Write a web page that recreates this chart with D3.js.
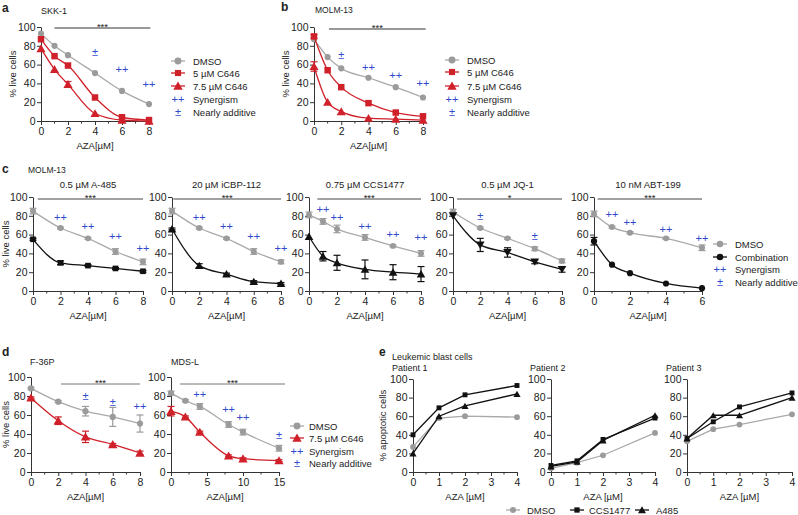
<!DOCTYPE html>
<html><head><meta charset="utf-8">
<script src="https://cdn.jsdelivr.net/npm/d3@7"></script>
<style>
body{margin:0;background:#fff;}
svg{font-family:"Liberation Sans",Arial,Helvetica,sans-serif;}
</style></head><body>
<svg id="fig" width="798" height="515"></svg>
<script>
// ================= DATA =================
const yTickVals = [0,20,40,60,80,100];
// --- a: SKK-1 ---
const aDose = [0,1,2,4,6,8];
const aDMSO = [93,80,70,51,32,18];
const a5C646 = [87,69,59,25,4,1];
const a75C646 = [77,55,39,8,1,0];
const a75C646Err = [0,0,3,0,0,0];
const aMarkDose = [4,6,8];
const aMarkVal = [73,55,39];
const aMarkText = ["±","++","++"];
// --- b: MOLM-13 ---
const bDose = [0,1,2,4,6,8];
const bDMSO = [87,68,56,46,36,25];
const b5C646 = [90,54,36,19,9,5];
const b5C646Err = [2,0,0,0,0,0];
const b75C646 = [58,20,10,3,2,1];
const b75C646Err = [5,0,0,0,0,0];
const bMarkDose = [2,4,6,8];
const bMarkVal = [70,57,49,40];
const bMarkText = ["±","++","++","++"];
// --- c: MOLM-13 combinations ---
const cTitles = ["0.5 µM A-485","20 µM iCBP-112","0.75 µM CCS1477","0.5 µM JQ-1","10 nM ABT-199"];
const cSigLabels = ["***","***","***","*","***"];
const cSigStart = [0.35,0.1,0.6,0.3,0.2];
const cXMax = [8,8,8,8,6];
const cXTicks = [[0,2,4,6,8],[0,2,4,6,8],[0,2,4,6,8],[0,2,4,6,8],[0,2,4,6]];
const c1Dose = [0,2,4,6,8];
const c1DMSO = [85,67,56,42,31];
const c1DMSOErr = [3,1,1,3,3];
const c1Comb = [55,30,27,24,21];
const c1CombErr = [1,2,1,1,1];
const c1MarkDose = [2,4,6,8];
const c1MarkVal = [79,69,58,46];
const c1MarkText = ["++","++","++","++"];
const c2Dose = [0,2,4,6,8];
const c2DMSO = [85,67,56,42,31];
const c2DMSOErr = [3,1,1,3,2];
const c2Comb = [66,27,18,10,8];
const c2CombErr = [1,2,1,1,1];
const c2MarkDose = [2,4,6,8];
const c2MarkVal = [79,69,58,46];
const c2MarkText = ["++","++","++","++"];
const c3Dose = [0,1,2,4,6,8];
const c3DMSO = [81,74,66,57,48,40];
const c3DMSOErr = [3,3,4,3,1,3];
const c3Comb = [58,37,30,23,20,18];
const c3CombErr = [0,5,8,10,8,8];
const c3MarkDose = [1,2,4,6,8];
const c3MarkVal = [87,79,69,61,57];
const c3MarkText = ["++","++","++","++","++"];
const c4Dose = [0,2,4,6,8];
const c4DMSO = [84,67,56,45,32];
const c4DMSOErr = [3,1,1,2,2];
const c4Comb = [80,49,41,31,23];
const c4CombErr = [0,7,5,2,3];
const c4MarkDose = [2,6];
const c4MarkVal = [80,59];
const c4MarkText = ["±","±"];
const c5Dose = [0,1,2,4,6];
const c5DMSO = [82,68,62,56,46];
const c5DMSOErr = [3,1,1,1,3];
const c5Comb = [53,28,19,8,3];
const c5CombErr = [4,0,0,0,0];
const c5MarkDose = [1,2,4,6];
const c5MarkVal = [82,73,66,56];
const c5MarkText = ["++","++","++","++"];
// --- d: F-36P and MDS-L ---
const dFDose = [0,2,4,6,8];
const dFDMSO = [88,74,64,58,51];
const dFDMSOErr = [1,1,5,10,9];
const dFC646 = [78,54,37,29,20];
const dFC646Err = [1,4,6,1,2];
const dFMarkDose = [4,6,8];
const dFMarkVal = [80,74,69];
const dFMarkText = ["±","±","++"];
const dMDose = [0,2,4,8,10,15];
const dMDMSO = [83,75,69,50,42,25];
const dMDMSOErr = [2,1,3,3,3,3];
const dMC646 = [64,58,42,17,14,12];
const dMC646Err = [5,1,1,1,1,1];
const dMMarkDose = [4,8,10,15];
const dMMarkVal = [82,66,58,39];
const dMMarkText = ["++","++","++","±"];
// --- e: leukemic blast cells ---
const eDose = [0,1,2,4];
const eTitles = ["Patient 1","Patient 2","Patient 3"];
const p1DMSO = [27,58,60,59];
const p1CCS1477 = [40,69,83,93];
const p1A485 = [20,60,71,84];
const p2DMSO = [4,10,18,42];
const p2CCS1477 = [7,12,35,58];
const p2A485 = [6,11,34,61];
const p3DMSO = [33,46,51,62];
const p3CCS1477 = [36,54,70,85];
const p3A485 = [36,61,61,80];

// ================= STYLE =================
const GRAY = "#9b9b9b", GRAYLINE = "#a9a9a9", RED = "#d0212a", BLUE = "#2f48cc", BLACK = "#111", AX = "#333", TXT = "#222";
const svg = d3.select("#fig");
const fmt = d3.format("~g");

function symPath(shape, size){
  const t = {circle:d3.symbolCircle, square:d3.symbolSquare, triangle:d3.symbolTriangle, tridown:d3.symbolTriangle}[shape];
  return d3.symbol().type(t).size(size)();
}
function drawMarker(g, shape, size, cx, cy, color){
  const rot = shape === "tridown" ? " rotate(180)" : "";
  const dy = shape === "triangle" ? 1 : (shape === "tridown" ? -1 : 0);
  g.append("path").attr("d", symPath(shape, size))
    .attr("transform", `translate(${cx},${cy+dy})${rot}`).attr("fill", color);
}

function drawPanel(o){
  const g = svg.append("g");
  const x = d3.scaleLinear().domain([0, o.xMax]).range([o.x0, o.x1]);
  const y = d3.scaleLinear().domain([0, 100]).range([o.y0, o.y100]);
  const ya = g.append("g").attr("transform", `translate(${o.x0},0)`)
    .call(d3.axisLeft(y).tickValues(yTickVals).tickFormat(fmt).tickSize(4).tickSizeOuter(0).tickPadding(1.5));
  const xa = g.append("g").attr("transform", `translate(0,${o.y0})`)
    .call(d3.axisBottom(x).tickValues(o.xTicks).tickFormat(fmt).tickSize(4).tickSizeOuter(0).tickPadding(3));
  xa.selectAll(".minor").data(o.xMinor).join("line").attr("class","minor")
    .attr("x1", d => x(d)).attr("x2", d => x(d)).attr("y1", 0).attr("y2", 2.5).attr("stroke", AX);
  [ya, xa].forEach(a => {
    a.attr("font-family", null).attr("font-size", null);
    a.selectAll("path,line").attr("stroke", AX).attr("stroke-width", 1);
    a.selectAll("text").attr("fill", TXT).style("font-size", "10.5px");
  });
  if (o.ylabel) {
    g.append("text").attr("transform", `translate(${o.x0 - o.ylabelOff},${(o.y0 + o.y100) / 2}) rotate(-90)`)
      .attr("text-anchor", "middle").attr("dy", "0.35em").attr("fill", TXT).style("font-size", "9.5px").text(o.ylabel);
  }
  g.append("text").attr("x", (o.x0 + o.x1) / 2).attr("y", o.y0 + 25).attr("dy", "0.35em")
    .attr("text-anchor", "middle").attr("fill", TXT).style("font-size", "9.5px").text(o.xlabel);
  if (o.sig) {
    const xs = x(o.sig.from), xe = o.sig.toPx !== undefined ? o.sig.toPx : x(o.sig.to);
    g.append("line").attr("x1", xs).attr("x2", xe)
      .attr("y1", o.sig.y).attr("y2", o.sig.y).attr("stroke", o.sig.color || AX).attr("stroke-width", 1);
    g.append("text").attr("x", (xs + xe) / 2).attr("y", o.sig.y + 1.5).attr("text-anchor", "middle")
      .attr("fill", TXT).style("font-size", "9.5px").text(o.sig.label);
  }
  o.series.forEach(s => {
    const pts = s.dose.map((d, i) => ({x: d, y: s.vals[i], e: s.err ? s.err[i] : 0}));
    const line = d3.line().x(d => x(d.x)).y(d => y(d.y)).curve(s.straight ? d3.curveLinear : d3.curveMonotoneX);
    g.append("path").datum(pts).attr("d", line).attr("fill", "none")
      .attr("stroke", s.lineColor || s.color).attr("stroke-width", s.lw || 1.3);
    pts.filter(p => p.e > 0).forEach(p => {
      const cx = x(p.x), ylo = y(Math.max(0, p.y - p.e)), yhi = y(p.y + p.e);
      g.append("line").attr("x1", cx).attr("x2", cx).attr("y1", ylo).attr("y2", yhi).attr("stroke", s.color).attr("stroke-width", 1.2);
      [ylo, yhi].forEach(yy => g.append("line").attr("x1", cx - 3.5).attr("x2", cx + 3.5).attr("y1", yy).attr("y2", yy)
        .attr("stroke", s.color).attr("stroke-width", 1.2));
    });
    pts.forEach(p => drawMarker(g, s.shape, s.size, x(p.x), y(p.y), s.color));
  });
  if (o.marks) {
    o.marks.dose.forEach((d, i) => {
      g.append("text").attr("x", x(d)).attr("y", y(o.marks.vals[i])).attr("dominant-baseline", "central")
        .attr("text-anchor", "middle").attr("fill", BLUE).style("font-size", "11px").text(o.marks.text[i]);
    });
  }
  return {x, y};
}

function text(x, y, s, size, opts = {}) {
  const t = svg.append("text").attr("x", x).attr("y", y).attr("dominant-baseline", "central")
    .attr("fill", opts.color || TXT).style("font-size", size + "px").text(s);
  if (opts.bold) t.attr("font-weight", "bold");
  if (opts.anchor) t.attr("text-anchor", opts.anchor);
  return t;
}

function legend(mx, tx, rows, rowsY, msize) {
  rows.forEach((r, i) => {
    const yy = rowsY[i];
    if (r.shape) {
      svg.append("line").attr("x1", mx - 7).attr("x2", mx + 7).attr("y1", yy).attr("y2", yy)
        .attr("stroke", r.lineColor || r.color).attr("stroke-width", 1.3);
      drawMarker(svg, r.shape, msize, mx, yy, r.color);
    } else {
      svg.append("text").attr("x", mx).attr("y", yy).attr("text-anchor", "middle").attr("dominant-baseline", "central")
        .attr("fill", BLUE).style("font-size", "11px").text(r.sym);
    }
    text(tx, yy, r.label, 9.5);
  });
}

// ================= PANEL a =================
text(2, 8, "a", 12, {bold: true});
text(41, 11, "SKK-1", 9);
drawPanel({x0: 41, x1: 149, y0: 121, y100: 27, xMax: 8, xTicks: [0,2,4,6,8], xMinor: [1,3,5,7],
  ylabel: "% live cells", ylabelOff: 28, xlabel: "AZA[µM]",
  sig: {from: 1.0, to: 8.1, y: 28, label: "***"},
  series: [
    {dose: aDose, vals: aDMSO, color: GRAY, lineColor: GRAYLINE, shape: "circle", size: 30},
    {dose: aDose, vals: a5C646, color: RED, shape: "square", size: 42},
    {dose: aDose, vals: a75C646, err: a75C646Err, color: RED, shape: "triangle", size: 36}
  ],
  marks: {dose: aMarkDose, vals: aMarkVal, text: aMarkText}
});
const legA = [
  {shape: "circle", color: GRAY, lineColor: GRAYLINE, label: "DMSO"},
  {shape: "square", color: RED, label: "5 µM C646"},
  {shape: "triangle", color: RED, label: "7.5 µM C646"},
  {sym: "++", label: "Synergism"},
  {sym: "±", label: "Nearly additive"}
];
legend(178, 193, legA, [61, 73, 86, 99, 112], 38);

// ================= PANEL b =================
text(281, 7, "b", 12, {bold: true});
text(315, 10, "MOLM-13", 8.5);
drawPanel({x0: 314, x1: 423, y0: 121, y100: 27, xMax: 8, xTicks: [0,2,4,6,8], xMinor: [1,3,5,7],
  ylabel: "% live cells", ylabelOff: 28, xlabel: "AZA[µM]",
  sig: {from: 1.1, to: 8.2, y: 29, label: "***"},
  series: [
    {dose: bDose, vals: bDMSO, color: GRAY, lineColor: GRAYLINE, shape: "circle", size: 30},
    {dose: bDose, vals: b5C646, err: b5C646Err, color: RED, shape: "square", size: 42},
    {dose: bDose, vals: b75C646, err: b75C646Err, color: RED, shape: "triangle", size: 36}
  ],
  marks: {dose: bMarkDose, vals: bMarkVal, text: bMarkText}
});
legend(452, 467, legA, [60, 72, 86, 99, 112], 38);

// ================= PANEL c =================
text(2, 169, "c", 12, {bold: true});
text(28, 170, "MOLM-13", 8.5);
const cX0 = [33,172,309,453,594];
const cX1 = [143,281,421,562,702];
const cSets = [
  {dose: c1Dose, dmso: c1DMSO, dErr: c1DMSOErr, comb: c1Comb, cErr: c1CombErr, shape: "square", md: c1MarkDose, mv: c1MarkVal, mt: c1MarkText},
  {dose: c2Dose, dmso: c2DMSO, dErr: c2DMSOErr, comb: c2Comb, cErr: c2CombErr, shape: "triangle", md: c2MarkDose, mv: c2MarkVal, mt: c2MarkText},
  {dose: c3Dose, dmso: c3DMSO, dErr: c3DMSOErr, comb: c3Comb, cErr: c3CombErr, shape: "triangle", md: c3MarkDose, mv: c3MarkVal, mt: c3MarkText},
  {dose: c4Dose, dmso: c4DMSO, dErr: c4DMSOErr, comb: c4Comb, cErr: c4CombErr, shape: "tridown", md: c4MarkDose, mv: c4MarkVal, mt: c4MarkText},
  {dose: c5Dose, dmso: c5DMSO, dErr: c5DMSOErr, comb: c5Comb, cErr: c5CombErr, shape: "circle", md: c5MarkDose, mv: c5MarkVal, mt: c5MarkText}
];
cSets.forEach((s, i) => {
  const xm = cXMax[i];
  const minor = d3.range(1, xm, 2);
  text((cX0[i] + cX1[i]) / 2, 184, cTitles[i], 9.5, {anchor: "middle"});
  drawPanel({x0: cX0[i], x1: cX1[i], y0: 291, y100: 197, xMax: xm, xTicks: cXTicks[i], xMinor: minor,
    ylabel: i === 0 ? "% live cells" : null, ylabelOff: 27, xlabel: "AZA[µM]",
    sig: {from: cSigStart[i], to: xm, y: 199, label: cSigLabels[i], color: "#444"},
    series: [
      {dose: s.dose, vals: s.dmso, err: s.dErr, color: GRAY, lineColor: GRAYLINE, shape: "circle", size: 28},
      {dose: s.dose, vals: s.comb, err: s.cErr, color: BLACK, shape: s.shape, size: s.shape === "circle" ? 30 : 32}
    ],
    marks: {dose: s.md, vals: s.mv, text: s.mt}
  });
});
legend(720, 735, [
  {shape: "circle", color: GRAY, lineColor: GRAYLINE, label: "DMSO"},
  {shape: "circle", color: BLACK, label: "Combination"},
  {sym: "++", label: "Synergism"},
  {sym: "±", label: "Nearly additive"}
], [244, 257, 269, 282], 34);

// ================= PANEL d =================
text(2, 352, "d", 12, {bold: true});
text(30, 362, "F-36P", 9);
drawPanel({x0: 31, x1: 140, y0: 472, y100: 377, xMax: 8, xTicks: [0,2,4,6,8], xMinor: [1,3,5,7],
  ylabel: "% live cells", ylabelOff: 25, xlabel: "AZA[µM]",
  sig: {from: 2.2, to: 8, y: 384, label: "***", color: "#777"},
  series: [
    {dose: dFDose, vals: dFDMSO, err: dFDMSOErr, color: GRAY, lineColor: GRAYLINE, shape: "circle", size: 30},
    {dose: dFDose, vals: dFC646, err: dFC646Err, color: RED, shape: "triangle", size: 38}
  ],
  marks: {dose: dFMarkDose, vals: dFMarkVal, text: dFMarkText}
});
text(171, 362, "MDS-L", 9);
drawPanel({x0: 171, x1: 279, y0: 472, y100: 377, xMax: 15, xTicks: [0,5,10,15], xMinor: [2.5,7.5,12.5],
  ylabel: null, xlabel: "AZA[µM]",
  sig: {from: 1.25, to: 15, toPx: 285, y: 384, label: "***", color: "#777"},
  series: [
    {dose: dMDose, vals: dMDMSO, err: dMDMSOErr, color: GRAY, lineColor: GRAYLINE, shape: "circle", size: 30},
    {dose: dMDose, vals: dMC646, err: dMC646Err, color: RED, shape: "triangle", size: 38}
  ],
  marks: {dose: dMMarkDose, vals: dMMarkVal, text: dMMarkText}
});
legend(297, 309, [
  {shape: "circle", color: GRAY, lineColor: GRAYLINE, label: "DMSO"},
  {shape: "triangle", color: RED, label: "7.5 µM C646"},
  {sym: "++", label: "Synergism"},
  {sym: "±", label: "Nearly additive"}
], [426, 438, 451, 463], 38);

// ================= PANEL e =================
text(379, 352, "e", 12, {bold: true});
text(392, 357, "Leukemic blast cells", 9);
const eX0 = [413, 551, 687];
const eX1 = [517, 655, 792];
const eSets = [[p1DMSO, p1CCS1477, p1A485], [p2DMSO, p2CCS1477, p2A485], [p3DMSO, p3CCS1477, p3A485]];
eSets.forEach((s, i) => {
  text(eX0[i] - 21, 368, eTitles[i], 9);
  drawPanel({x0: eX0[i], x1: eX1[i], y0: 472, y100: 379, xMax: 4, xTicks: [0,1,2,3,4], xMinor: [0.5,1.5,2.5,3.5],
    ylabel: i === 0 ? "% apoptotic cells" : null, ylabelOff: 30, xlabel: "AZA [µM]",
    series: [
      {dose: eDose, vals: s[0], color: GRAY, lineColor: GRAYLINE, shape: "circle", size: 26, straight: true},
      {dose: eDose, vals: s[2], color: BLACK, shape: "triangle", size: 22, straight: true},
      {dose: eDose, vals: s[1], color: BLACK, shape: "square", size: 24, straight: true}
    ]
  });
});
[[513, 527, "circle", GRAY, GRAYLINE, "DMSO"], [577, 589, "square", BLACK, BLACK, "CCS1477"], [642, 656, "triangle", BLACK, BLACK, "A485"]]
  .forEach(([mx, tx, shp, col, lc, lab]) => {
    svg.append("line").attr("x1", mx - 7).attr("x2", mx + 7).attr("y1", 510).attr("y2", 510).attr("stroke", lc).attr("stroke-width", 1.3);
    drawMarker(svg, shp, 28, mx, 510, col);
    text(tx, 510, lab, 9.5);
  });
</script>
</body></html>
